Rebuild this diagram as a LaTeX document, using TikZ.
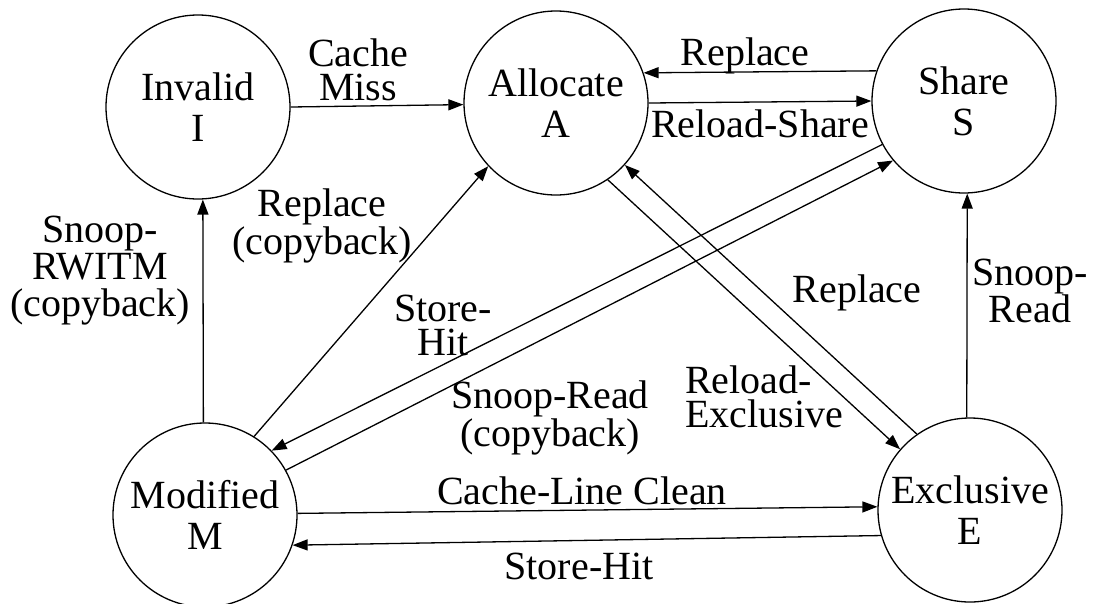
\documentclass[tikz,border=0pt]{standalone}
\usepackage{fontspec}
\setmainfont{Liberation Serif}
\usetikzlibrary{arrows.meta}
\begin{document}
\begin{tikzpicture}[x=1pt,y=-1pt,
  state/.style={circle,draw,line width=1.3pt,minimum size=184pt,inner sep=0pt,align=center,font=\fontsize{40}{41}\selectfont},
  lbl/.style={inner sep=0pt,align=center,font=\fontsize{40}{34}\selectfont},
  tr/.style={line width=1.3pt,-{Triangle[length=15pt,width=11pt]}}]
\useasboundingbox (0,0) rectangle (1095,603);
% states
\node[state] (I) at (198,107) {Invalid\\I};
\node[state] (A) at (556,103) {Allocate\\A};
\node[state] (S) at (964,101) {Share\\S};
\node[state] (M) at (205,515) {Modified\\M};
\node[state] (E) at (970,510) {Exclusive\\E};
% transitions
\draw[tr] (I.0) -- (A.181);
\draw[tr] (S.161.6) -- (A.19.5);
\draw[tr] (A.0.6) -- (S.180.6);
\draw[tr] (M.91.8) -- (I.-87.5);
\draw[tr] (M.58) -- (A.223.7);
\draw[tr] (S.208.5) -- (M.44);
\draw[tr] (M.29.8) -- (S.220.5);
\draw[tr] (A.-56.6) -- (E.139.4);
\draw[tr] (E.125.2) -- (A.-42);
\draw[tr] (E.92.5) -- (S.-88.75);
\draw[tr] (M.1.2) -- (E.178);
\draw[tr] (E.196.5) -- (M.-19);
% labels
\node[lbl] (l1) at (358,70) {Cache\\Miss};
\node[lbl] (l2) at (745,56) {Replace};
\node[lbl] (l3) at (760,124) {Reload-Share};
\node[lbl,font=\fontsize{40}{37}\selectfont] (l4) at (100,271) {Snoop-\\RWITM\\(copyback)};
\node[lbl,font=\fontsize{40}{30}\selectfont] (l5) at (322,226) {Replace\\(copyback)};
\node[lbl] (l6) at (443,325) {Store-\\Hit};
\node[lbl] (l7) at (550,418) {Snoop-Read\\(copyback)};
\node[lbl,align=left,anchor=west] (l8) at (685,397) {Reload-\\Exclusive};
\node[lbl] (l9) at (857,293) {Replace};
\node[lbl] (l10) at (1030,291) {Snoop-\\Read};
\node[lbl] (l11) at (582,491) {Cache-Line Clean};
\node[lbl] (l12) at (579,566) {Store-Hit};
\end{tikzpicture}
\end{document}
